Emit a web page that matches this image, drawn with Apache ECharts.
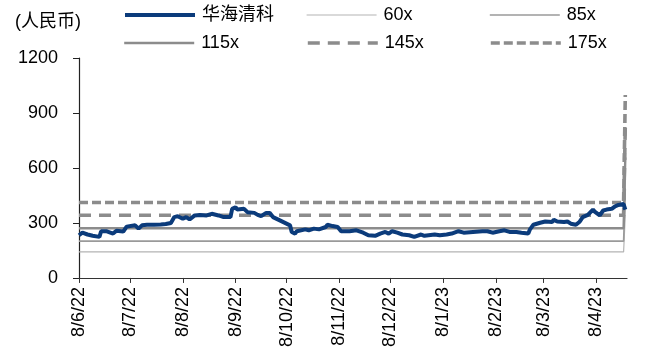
<!DOCTYPE html>
<html lang="zh">
<head>
    <meta charset="UTF-8"/>
    <title>华海清科 PE Band</title>
    <script src="https://cdn.jsdelivr.net/npm/echarts@6/dist/echarts.min.js"></script>
</head>
<body style="margin:0;">
<div id="main" style="width:662px;height:350px;"></div>

<script type="text/javascript">
    // 华海清科 收盘价（人民币）
    var priceData = [
        ['2022-06-08', 233], ['2022-06-10', 247], ['2022-06-13', 237], ['2022-06-16', 230],
        ['2022-06-20', 224], ['2022-06-21', 255], ['2022-06-24', 255], ['2022-06-28', 242],
        ['2022-06-30', 258], ['2022-07-04', 253], ['2022-07-05', 260], ['2022-07-06', 280],
        ['2022-07-11', 287], ['2022-07-12', 296], ['2022-07-13', 269], ['2022-07-15', 287],
        ['2022-07-18', 290], ['2022-07-22', 290], ['2022-07-26', 292], ['2022-07-29', 294],
        ['2022-08-01', 300], ['2022-08-03', 332], ['2022-08-05', 337], ['2022-08-08', 323],
        ['2022-08-10', 332], ['2022-08-12', 319], ['2022-08-15', 341], ['2022-08-18', 344],
        ['2022-08-22', 341], ['2022-08-25', 350], ['2022-08-29', 341], ['2022-09-01', 332],
        ['2022-09-05', 332], ['2022-09-06', 377], ['2022-09-08', 386], ['2022-09-09', 373],
        ['2022-09-13', 377], ['2022-09-14', 373], ['2022-09-15', 359], ['2022-09-19', 355],
        ['2022-09-21', 344], ['2022-09-23', 337], ['2022-09-26', 355], ['2022-09-28', 355],
        ['2022-09-30', 332], ['2022-10-04', 314], ['2022-10-10', 287], ['2022-10-11', 251],
        ['2022-10-13', 242], ['2022-10-14', 255], ['2022-10-19', 265], ['2022-10-21', 260],
        ['2022-10-24', 269], ['2022-10-27', 265], ['2022-10-31', 278], ['2022-11-01', 290],
        ['2022-11-04', 283], ['2022-11-07', 278], ['2022-11-09', 255], ['2022-11-14', 255],
        ['2022-11-15', 260], ['2022-11-18', 260], ['2022-11-22', 247], ['2022-11-25', 233],
        ['2022-11-29', 230], ['2022-12-02', 242], ['2022-12-05', 251], ['2022-12-07', 242],
        ['2022-12-09', 255], ['2022-12-12', 247], ['2022-12-15', 237], ['2022-12-19', 233],
        ['2022-12-22', 224], ['2022-12-26', 237], ['2022-12-28', 230], ['2023-01-03', 237],
        ['2023-01-06', 233], ['2023-01-10', 237], ['2023-01-13', 242], ['2023-01-17', 255],
        ['2023-01-20', 247], ['2023-01-31', 255], ['2023-02-03', 255], ['2023-02-06', 247],
        ['2023-02-10', 255], ['2023-02-13', 260], ['2023-02-16', 251], ['2023-02-20', 251],
        ['2023-02-23', 247], ['2023-02-27', 242], ['2023-02-28', 265], ['2023-03-02', 290],
        ['2023-03-06', 301], ['2023-03-07', 296], ['2023-03-09', 308], ['2023-03-13', 305],
        ['2023-03-14', 317], ['2023-03-16', 308], ['2023-03-20', 305], ['2023-03-22', 308],
        ['2023-03-24', 296], ['2023-03-27', 290], ['2023-03-29', 305], ['2023-03-31', 332],
        ['2023-04-03', 344], ['2023-04-06', 373], ['2023-04-07', 362], ['2023-04-10', 341],
        ['2023-04-11', 332], ['2023-04-12', 368], ['2023-04-14', 373], ['2023-04-17', 377],
        ['2023-04-19', 391], ['2023-04-21', 398], ['2023-04-24', 403], ['2023-04-25', 373]
    ];

    // PE 倍数线：前段水平，最后一天随 EPS 调整跳升
    var bandNames = ['60x', '85x', '115x', '145x', '175x'];
    var bandBase  = [142, 201, 271, 342, 412];
    var bandEnd   = [343, 486, 657, 829, 998];
    var bandDates = ['2022-06-08', '2023-04-24', '2023-04-25'];

    // 横轴刻度（每月8日）
    var tickDates = ['2022-06-08', '2022-07-08', '2022-08-08', '2022-09-08', '2022-10-08',
        '2022-11-08', '2022-12-08', '2023-01-08', '2023-02-08', '2023-03-08', '2023-04-08'];
    var yTicks = [0, 300, 600, 900, 1200];

    var FONT = "'Liberation Sans', Arial, 'Noto Sans CJK SC', sans-serif";
    var toTime = function (s) { return echarts.number.parseDate(s).getTime(); };
    var tickTimes = tickDates.map(toTime);

    var priceStyle = {color: '#0b3b7b', width: 4, type: 'solid'};
    var bandStyles = [
        {color: '#b4b4b4', width: 1.2, type: 'solid'},
        {color: '#9a9a9a', width: 1.6, type: 'solid'},
        {color: '#8c8c8c', width: 2.4, type: 'solid'},
        {color: '#8c8c8c', width: 3.6, type: [12, 8]},
        {color: '#8c8c8c', width: 3.6, type: [9, 4]}
    ];

    var series = bandNames.map(function (name, i) {
        return {
            name: name,
            type: 'line',
            symbol: 'none',
            z: 2,
            lineStyle: bandStyles[i],
            itemStyle: {color: bandStyles[i].color},
            data: [
                [toTime(bandDates[0]), bandBase[i]],
                [toTime(bandDates[1]), bandBase[i]],
                [toTime(bandDates[2]), bandEnd[i]]
            ]
        };
    });
    series.unshift({
        name: '华海清科',
        type: 'line',
        symbol: 'none',
        z: 5,
        lineStyle: priceStyle,
        itemStyle: {color: priceStyle.color},
        data: priceData.map(function (p) { return [toTime(p[0]), p[1]]; })
    });

    var legendPos = [
        ['华海清科', 123, 6, priceStyle], ['60x', 306, 6, bandStyles[0]], ['85x', 489, 6, bandStyles[1]],
        ['115x', 123, 34, bandStyles[2]], ['145x', 306, 34, bandStyles[3]], ['175x', 489, 34, bandStyles[4]]
    ];
    var legends = legendPos.map(function (p) {
        return {
            data: [p[0]],
            left: p[1],
            top: p[2],
            padding: 0,
            itemWidth: 70,
            itemHeight: 14,
            itemGap: 0,
            selectedMode: false,
            itemStyle: {opacity: 0},
            lineStyle: {width: p[3].width, color: p[3].color, type: p[3].type, opacity: 1},
            textStyle: {fontSize: 18, color: '#000', fontFamily: FONT, padding: [0, 0, 0, 2]}
        };
    });

    var myChart = echarts.init(document.getElementById('main'));
    var option = {
        animation: false,
        backgroundColor: '#fff',
        title: {
            text: '(人民币)',
            left: 15,
            top: 13,
            padding: 0,
            textStyle: {fontSize: 18, fontWeight: 'normal', color: '#000', fontFamily: FONT}
        },
        legend: legends,
        grid: {left: 79, right: 35, top: 58, bottom: 67},
        xAxis: {
            type: 'value',
            min: toTime('2022-06-08'),
            max: toTime('2023-04-26'),
            splitLine: {show: false},
            axisLine: {lineStyle: {color: '#333', width: 1.2}},
            axisTick: {show: true, length: 5, customValues: tickTimes, lineStyle: {color: '#333'}},
            axisLabel: {
                customValues: tickTimes,
                rotate: 90,
                margin: 9,
                fontSize: 18,
                color: '#000',
                fontFamily: FONT,
                formatter: function (v) {
                    var d = new Date(v);
                    return d.getDate() + '/' + (d.getMonth() + 1) + '/' + String(d.getFullYear()).slice(2);
                }
            }
        },
        yAxis: {
            type: 'value',
            min: yTicks[0],
            max: yTicks[yTicks.length - 1],
            interval: 300,
            splitLine: {show: false},
            axisLine: {show: true, lineStyle: {color: '#222', width: 1.2}},
            axisTick: {show: true, length: 6, lineStyle: {color: '#222'}},
            axisLabel: {
                fontSize: 18, color: '#000', fontFamily: FONT, margin: 21,
                formatter: function (v) { return String(v); }
            }
        },
        series: series
    };
    myChart.setOption(option);
</script>
</body>
</html>
